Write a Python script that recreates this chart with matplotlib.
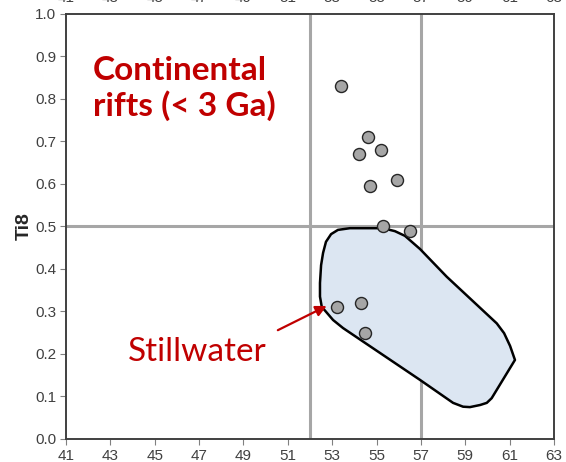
import matplotlib.pyplot as plt
from matplotlib.patches import Polygon

# Ti8 vs. SiO2-type discrimination plot
x_ticks = [41, 43, 45, 47, 49, 51, 53, 55, 57, 59, 61, 63]
y_ticks = [0.0, 0.1, 0.2, 0.3, 0.4, 0.5, 0.6, 0.7, 0.8, 0.9, 1.0]

sample_x = [53.4, 54.6, 54.2, 55.2, 54.7, 55.9, 55.3, 56.5, 53.2, 54.3, 54.5]
sample_y = [0.83, 0.71, 0.67, 0.68, 0.595, 0.61, 0.50, 0.49, 0.31, 0.32, 0.25]

# Stillwater field outline
field_x = [53.26, 53.80, 55.29, 55.83, 56.28, 56.96, 58.16, 60.42, 60.75, 61.02,
           61.24, 60.19, 59.97, 59.67, 59.21, 58.90, 58.45, 56.96, 53.49, 53.04,
           52.53, 52.45, 52.45, 52.50, 52.59, 52.72, 52.95]
field_y = [0.492, 0.496, 0.496, 0.489, 0.478, 0.447, 0.382, 0.272, 0.249, 0.219,
           0.186, 0.096, 0.085, 0.080, 0.075, 0.076, 0.085, 0.139, 0.261, 0.280,
           0.311, 0.335, 0.367, 0.409, 0.438, 0.464, 0.482]

div_x = [52, 57]
div_y = 0.5

fig = plt.figure(figsize=(5.66, 4.62), dpi=100)
ax = fig.add_axes([0.1166, 0.0498, 0.8622, 0.9199])

grey_line = '#A6A6A6'
for xv in div_x:
    ax.axvline(xv, color=grey_line, lw=2.2, zorder=1)
ax.axhline(div_y, color=grey_line, lw=2.2, zorder=1)

field = Polygon(list(zip(field_x, field_y)), closed=True, facecolor='#DCE6F2',
                edgecolor='black', lw=1.8, joinstyle='round', zorder=2)
ax.add_patch(field)

ax.scatter(sample_x, sample_y, s=75, facecolor='#A6A6A6', edgecolor='#262626',
           linewidth=1.0, zorder=4)

red = '#C00000'
ax.text(42.2, 0.824, 'Continental\nrifts (< 3 Ga)', color=red, fontsize=24,
        fontweight='bold', family='Lato', va='center', ha='left', linespacing=1.2)
ax.text(43.8, 0.205, 'Stillwater', color=red, fontsize=24, family='Lato',
        va='center', ha='left')
ax.annotate('', xy=(52.75, 0.313), xytext=(50.55, 0.256),
            arrowprops=dict(arrowstyle='-|>', color=red, lw=1.6,
                            mutation_scale=16, shrinkA=0, shrinkB=0), zorder=5)

ax.set_xlim(41, 63)
ax.set_ylim(0, 1)
ax.set_xticks(x_ticks)
ax.set_yticks(y_ticks)
ax.set_yticklabels([f'{v:.1f}' for v in y_ticks])
ax.tick_params(direction='out', length=4, color='#808080', labelsize=11,
               labelcolor='#404040', pad=3)
for lbl in ax.get_xticklabels() + ax.get_yticklabels():
    lbl.set_family('Liberation Sans')
for s in ax.spines.values():
    s.set_color('#404040')
    s.set_linewidth(1.4)

ax.set_ylabel('Ti8', fontsize=14, fontweight='bold', family='Liberation Sans',
              color='#262626', labelpad=2)

# tick labels of the axis above, cut off at the top edge
for xv in x_ticks:
    xf = ax.transData.transform((xv, 0))[0] / fig.bbox.width
    fig.text(xf, 1 - 4.5 / 462, str(xv), ha='center', va='bottom', fontsize=11,
             color='#404040', family='Liberation Sans')

fig.savefig('out.png', dpi=100)
